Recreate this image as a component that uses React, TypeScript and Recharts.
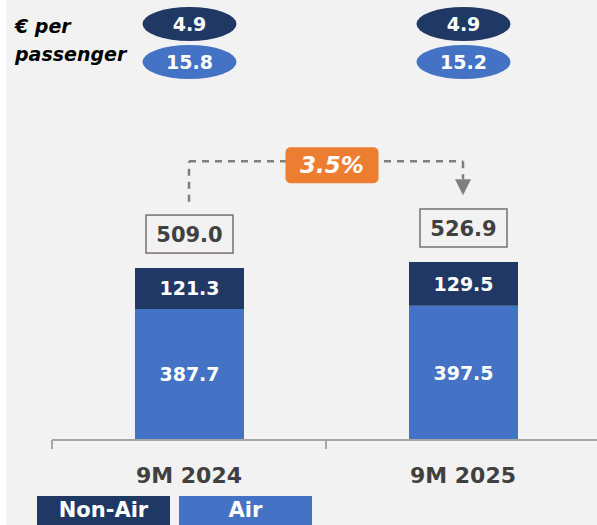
import { BarChart, Bar, XAxis, YAxis, LabelList, ReferenceLine, ReferenceDot, Legend } from 'recharts';

const categories = ['9M 2024', '9M 2025'];
const airRevenue = [387.7, 397.5];
const nonAirRevenue = [121.3, 129.5];
const totalRevenue = [509.0, 526.9];
const airPerPax = [15.8, 15.2];
const nonAirPerPax = [4.9, 4.9];
const growthLabel = '3.5%';

const COLORS = {
  nonAir: '#203864',
  air: '#4472c4',
  orange: '#ed7d31',
  bg: '#f2f2f2',
  text: '#404040',
  dash: '#7f7f7f',
  axis: '#a6a6a6',
  box: '#767171',
};
const FONT = "'DejaVu Sans', Tahoma, Verdana, sans-serif";

// connector levels, in chart units
const CONNECTOR_TOP = 825;
const CONNECTOR_LEFT_END = 705;
const CONNECTOR_RIGHT_END = 772;
const ARROW_LEVEL = 748;

const data = categories.map((name, i) => ({
  name,
  air: airRevenue[i],
  nonAir: nonAirRevenue[i],
  total: totalRevenue[i],
  airPax: airPerPax[i],
  nonAirPax: nonAirPerPax[i],
}));

const renderPill = (cy: number, fill: string) => (props: any) => {
  const cx = Number(props.x) + Number(props.width) / 2;
  return (
    <g>
      <ellipse cx={cx} cy={cy} rx={47} ry={17} fill={fill} />
      <text x={cx} y={cy} textAnchor="middle" dominantBaseline="central" fill="#fff"
        fontSize={19} fontWeight="bold" fontFamily={FONT}>
        {Number(props.value).toFixed(1)}
      </text>
    </g>
  );
};

const renderTotal = (props: any) => {
  const cx = Number(props.x) + Number(props.width) / 2;
  const bottom = Number(props.y) - 15;
  return (
    <g>
      <rect x={cx - 43.5} y={bottom - 38} width={87} height={38} fill="none" stroke={COLORS.box} strokeWidth={1.5} />
      <text x={cx} y={bottom - 18} textAnchor="middle" dominantBaseline="central" fill={COLORS.text}
        fontSize={21} fontWeight="bold" fontFamily={FONT}>
        {Number(props.value).toFixed(1)}
      </text>
    </g>
  );
};

const renderBadge = (props: any) => {
  const vb = props.viewBox || {};
  const cx = vb.x + vb.width / 2 + 6;
  const cy = vb.y + 4;
  return (
    <g>
      <rect x={cx - 46.5} y={cy - 18} width={93} height={36} rx={5} fill={COLORS.orange} />
      <text x={cx} y={cy} textAnchor="middle" dominantBaseline="central" fill="#fff"
        fontSize={23} fontWeight="bold" fontStyle="italic" fontFamily={FONT}>
        {growthLabel}
      </text>
    </g>
  );
};

const ArrowHead = (props: any) => {
  const { cx, cy } = props;
  return <path d={`M${cx - 8},${cy - 8} L${cx + 8},${cy - 8} L${cx},${cy + 8} Z`} fill={COLORS.dash} />;
};

const AxisTick = (props: any) => {
  const { x, y, payload } = props;
  const off = payload && typeof payload.offset === 'number' ? payload.offset : 137;
  return (
    <g>
      <line x1={x - off} x2={x - off} y1={y} y2={y + 9} stroke={COLORS.axis} strokeWidth={2} />
      <text x={x} y={y + 43} textAnchor="middle" fill={COLORS.text} fontSize={22} fontWeight="bold" fontFamily={FONT}>
        {payload.value}
      </text>
    </g>
  );
};

const renderLegend = () => {
  const items = [
    { label: 'Non-Air', color: COLORS.nonAir },
    { label: 'Air', color: COLORS.air },
  ];
  return (
    <div style={{ display: 'flex', gap: 9 }}>
      {items.map((it) => (
        <div key={it.label} style={{
          width: 133, height: 29, background: it.color, color: '#fff', textAlign: 'center',
          fontFamily: FONT, fontWeight: 'bold', fontSize: 21, lineHeight: '29px', overflow: 'hidden',
        }}>
          {it.label}
        </div>
      ))}
    </div>
  );
};

const dashed = { stroke: COLORS.dash, strokeWidth: 2.5, strokeDasharray: '7 6' };

export default function App() {
  return (
    <div style={{ position: 'absolute', left: 0, top: 0, width: 597, height: 525, overflow: 'hidden', background: '#fff' }}>
      <div style={{ position: 'absolute', left: 6, top: 0, right: 0, bottom: 0, background: COLORS.bg }} />
      <div style={{
        position: 'absolute', left: 15, top: 12, fontFamily: FONT, fontWeight: 'bold', fontStyle: 'italic',
        fontSize: 19, lineHeight: '28px', color: '#000',
      }}>
        € per<br />passenger
      </div>
      <div style={{ position: 'absolute', left: 0, top: 0 }}>
        <BarChart width={600} height={525} data={data} margin={{ top: 136, right: 0, left: 52, bottom: 45 }}>
          <XAxis dataKey="name" height={40} tickSize={0} tickMargin={0} tickLine={false}
            axisLine={{ stroke: COLORS.axis, strokeWidth: 2 }} tick={<AxisTick />} interval={0} />
          <YAxis hide domain={[0, 900]} />
          <Bar dataKey="air" stackId="rev" fill={COLORS.air} barSize={109} isAnimationActive={false}>
            <LabelList dataKey="air" position="center" fill="#fff" fontSize={19} fontWeight="bold"
              fontFamily={FONT} formatter={(v: any) => Number(v).toFixed(1)} />
          </Bar>
          <Bar dataKey="nonAir" stackId="rev" fill={COLORS.nonAir} barSize={109} isAnimationActive={false}>
            <LabelList dataKey="nonAir" position="center" fill="#fff" fontSize={19} fontWeight="bold"
              fontFamily={FONT} formatter={(v: any) => Number(v).toFixed(1)} />
            <LabelList dataKey="total" content={renderTotal} />
            <LabelList dataKey="nonAirPax" content={renderPill(24, COLORS.nonAir)} />
            <LabelList dataKey="airPax" content={renderPill(62, COLORS.air)} />
          </Bar>
          <ReferenceLine segment={[{ x: categories[0], y: CONNECTOR_LEFT_END }, { x: categories[0], y: CONNECTOR_TOP }]}
            {...dashed} />
          <ReferenceLine segment={[{ x: categories[1], y: CONNECTOR_TOP }, { x: categories[1], y: CONNECTOR_RIGHT_END }]}
            {...dashed} />
          <ReferenceDot x={categories[1]} y={ARROW_LEVEL} r={8} shape={<ArrowHead />} />
          <ReferenceLine segment={[{ x: categories[0], y: CONNECTOR_TOP }, { x: categories[1], y: CONNECTOR_TOP }]}
            {...dashed} label={renderBadge} />
          <Legend verticalAlign="middle" align="center" layout="horizontal" content={renderLegend}
            wrapperStyle={{ left: 37, top: 496, bottom: 'auto', width: 290, height: 29 }} />
        </BarChart>
      </div>
    </div>
  );
}
